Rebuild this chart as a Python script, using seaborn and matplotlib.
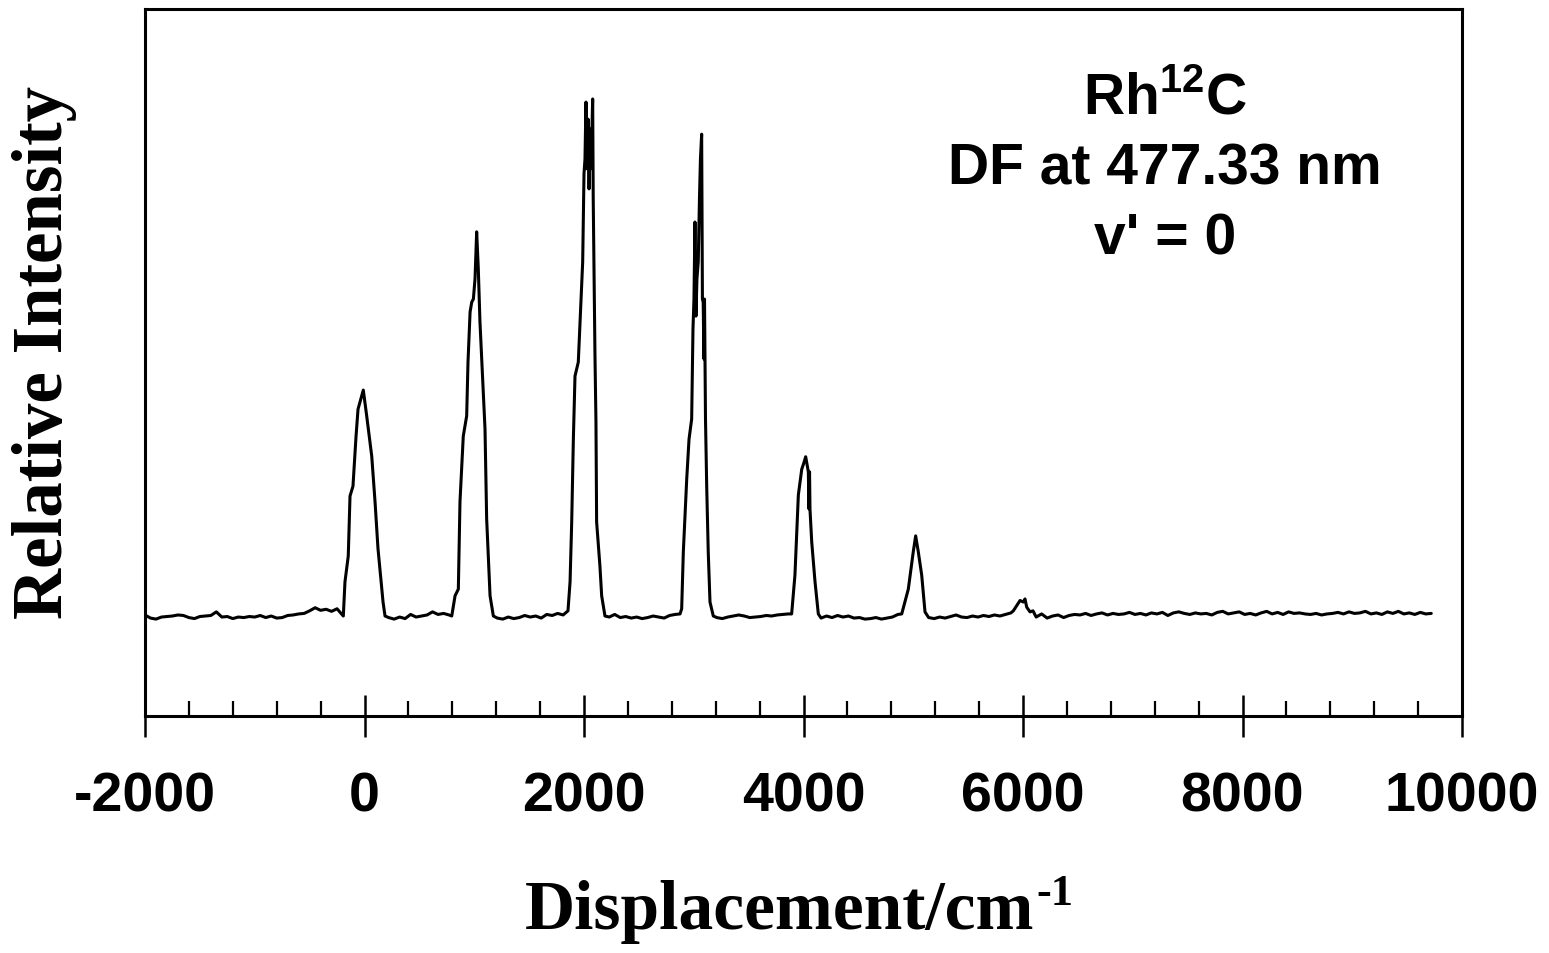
import matplotlib
matplotlib.use("Agg")
import numpy as np
import pandas as pd
import matplotlib.pyplot as plt
from matplotlib.ticker import MultipleLocator
import seaborn as sns

# ---------------------------------------------------------------------------
# Dispersed-fluorescence spectrum of Rh12C (excitation 477.33 nm, v' = 0)
# displacement in cm^-1, intensity in relative units (strongest line = 100)
# ---------------------------------------------------------------------------

# flat stretches between bands: start, step, sampled intensities
base_a_start, base_step = -2000, 50
base_a = [0.2, -0.4, -0.6, -0.2, -0.1, 0.0, 0.2, 0.1, -0.3, -0.5, -0.1, 0.0,
          0.1, 0.8, -0.2, -0.1, -0.5, -0.2, -0.3, -0.1, -0.2, 0.1, -0.3, 0.0,
          -0.4, -0.3, 0.1, 0.2, 0.4, 0.5, 1.0, 1.6, 1.1, 1.3, 0.9, 1.4]
base_b_start = 220
base_b = [-0.3, -0.6, -0.2, -0.5, 0.3, -0.2, 0.0, 0.2, 0.8, 0.3, 0.5, 0.2]
base_c_start = 1210
base_c = [-0.4, -0.6, -0.2, -0.5, -0.3, 0.1, -0.2, 0.0, -0.4, 0.3, 0.1, 0.5, 0.2]
base_d_start = 2230
base_d = [-0.2, 0.3, -0.3, -0.1, -0.4, -0.2, -0.5, -0.3, 0.0, -0.2, -0.4, 0.1, 0.3]
base_e_start = 3210
base_e = [-0.3, -0.5, -0.2, 0.0, 0.2, 0.0, -0.3, -0.2, -0.1, 0.1, 0.0, 0.2, 0.3, 0.4]
base_f_start = 4160
base_f = [-0.4, 0.0, -0.3, 0.1, -0.2, 0.0, -0.4, -0.3, -0.6, -0.5, -0.3, -0.6,
          -0.4, -0.2, 0.3]
base_g_start = 5140
base_g = [-0.3, -0.5, -0.2, -0.4, -0.1, 0.2, -0.2, -0.3, 0.0, -0.2, 0.1, -0.1,
          0.2, 0.0, 0.3, 0.6]
base_h_start = 6120
base_h = [-0.2, 0.4, -0.4, 0.0, 0.2, -0.3, 0.1, 0.3, 0.2, 0.5, 0.1, 0.4, 0.6,
          0.2, 0.5, 0.3, 0.4, 0.7, 0.3, 0.5, 0.2, 0.6, 0.4, 0.7, 0.1, 0.6, 0.8,
          0.5, 0.3, 0.6, 0.4, 0.5, 0.2, 0.7, 0.9, 0.4, 0.6, 0.8, 0.3, 0.5, 0.2,
          0.6, 0.9, 0.4, 0.7, 0.3, 0.8, 0.5, 0.6, 0.4, 0.3, 0.5, 0.2, 0.4, 0.5,
          0.7, 0.4, 0.8, 0.5, 0.6, 0.9, 0.4, 0.6, 0.3, 0.8, 0.5, 0.9, 0.4, 0.6,
          0.3, 0.7, 0.4, 0.5]

# vibrational bands (v'' = 0 ... 6)
band0_x = [-193, -178, -148, -132, -105, -77, -59, -41, -11, 20, 66, 96, 123, 169, 187]
band0_y = [0.0, 6.6, 11.6, 23.2, 25.1, 34.8, 40.0, 41.4, 43.7, 38.7, 30.9, 22.1, 13.0, 2.7, 0.0]

band1_x = [795, 825, 855, 870, 900, 931, 943, 962, 977, 992, 1007, 1022, 1037,
           1052, 1082, 1098, 1113, 1144, 1174]
band1_y = [0.0, 3.9, 5.2, 22.1, 34.8, 38.7, 49.1, 58.8, 60.7, 61.3, 65.2, 74.3,
           67.1, 56.9, 43.3, 36.2, 18.8, 3.9, 0.0]

band2_x = [1854, 1873, 1888, 1903, 1918, 1948, 1973, 1988, 2000, 2009, 2018, 2027,
           2037, 2046, 2055, 2064, 2079, 2084, 2091, 2100, 2109, 2115, 2145, 2161, 2191]
band2_y = [1.0, 6.6, 18.2, 34.2, 46.4, 49.1, 61.3, 68.5, 85.5, 88.4, 99.4, 86.5,
           96.1, 82.6, 94.2, 86.5, 100.0, 80.7, 67.1, 50.3, 37.5, 18.2, 9.7, 3.9, 0.0]

band3_x = [2875, 2890, 2905, 2936, 2957, 2981, 2993, 3002, 3011, 3020, 3029, 3041,
           3052, 3061, 3072, 3079, 3086, 3093, 3098, 3102, 3107, 3118, 3132, 3148, 3178]
band3_y = [0.4, 1.4, 12.4, 26.5, 34.2, 38.1, 55.5, 61.3, 76.2, 58.0, 65.2, 68.5,
           80.7, 88.4, 93.2, 61.3, 60.7, 49.7, 61.3, 51.1, 38.1, 25.1, 12.4, 2.7, 0.0]

band4_x = [3892, 3922, 3953, 3984, 4000, 4020, 4032, 4044, 4050, 4055, 4059, 4075, 4105, 4135]
band4_y = [0.4, 7.9, 23.4, 28.4, 29.4, 30.8, 29.4, 27.9, 20.7, 27.9, 20.7, 14.3, 6.6, 0.4]

band5_x = [4895, 4955, 5000, 5022, 5046, 5077, 5107]
band5_y = [0.4, 5.2, 12.4, 15.5, 12.4, 7.9, 0.8]

band6_x = [5912, 5973, 6003, 6018, 6034, 6064, 6091]
band6_y = [1.0, 3.0, 2.7, 3.3, 1.7, 0.8, 1.0]

x_major = [-2000, 0, 2000, 4000, 6000, 8000, 10000]

annotation = ["Rh$^{\\mathsf{12}}$C", "DF at 477.33 nm", "v' = 0"]
x_title = "Displacement/cm"
x_title_exp = "-1"
y_title = "Relative Intensity"


def flat(start, values):
    xs = [start + base_step * i for i in range(len(values))]
    return xs, list(values)


pieces = [
    flat(base_a_start, base_a), (band0_x, band0_y),
    flat(base_b_start, base_b), (band1_x, band1_y),
    flat(base_c_start, base_c), (band2_x, band2_y),
    flat(base_d_start, base_d), (band3_x, band3_y),
    flat(base_e_start, base_e), (band4_x, band4_y),
    flat(base_f_start, base_f), (band5_x, band5_y),
    flat(base_g_start, base_g), (band6_x, band6_y),
    flat(base_h_start, base_h),
]
shift = np.concatenate([np.asarray(p[0], float) for p in pieces])
inten = np.concatenate([np.asarray(p[1], float) for p in pieces])
spectrum = pd.DataFrame({"shift": shift, "intensity": inten})

sns.set_theme(style="white")
plt.rcParams.update({
    "font.family": ["Liberation Sans", "DejaVu Sans"],
    "axes.unicode_minus": False,
    "mathtext.fontset": "custom",
    "mathtext.rm": "Liberation Serif:bold",
    "mathtext.bf": "Liberation Serif:bold",
    "mathtext.sf": "Liberation Sans:bold",
    "axes.edgecolor": "black",
    "axes.linewidth": 2.0,
})

W, H = 1549, 954
fig = plt.figure(figsize=(W / 100, H / 100), dpi=100)
ax = fig.add_axes([145 / W, 1 - 717 / H, (1462 - 145) / W, (717 - 10) / H])

sns.lineplot(data=spectrum, x="shift", y="intensity", ax=ax, color="black",
             lw=2.2, estimator=None, sort=False)

ax.set_xlim(-2000, 10000)
ax.set_ylim(-19.34, 117.4)
ax.set_xticks(x_major)
ax.set_xticklabels([str(v) for v in x_major])
ax.xaxis.set_minor_locator(MultipleLocator(400))
ax.tick_params(axis="x", which="major", direction="inout", length=30, width=1.8,
               pad=24, labelsize=40, colors="black")
ax.tick_params(axis="x", which="minor", direction="in", length=11, width=1.6,
               colors="black")
ax.tick_params(axis="x", which="both", bottom=True, top=False)
ax.tick_params(axis="y", left=False, labelleft=False)
for lab in ax.get_xticklabels():
    lab.set_fontweight("bold")
ax.set_xlabel("")
ax.set_ylabel("")
for s in ax.spines.values():
    s.set_visible(True)
    s.set_color("black")
    s.set_linewidth(2.2)

# band system label
ann_x = (1165 - 145) / (1462 - 145)
for text, yy in zip(annotation, [0.873, 0.774, 0.675]):
    ax.text(ann_x, yy, text, transform=ax.transAxes, ha="center", va="center",
            fontsize=41, fontweight="bold", color="black")

# axis titles (the x title carries a raised "-1" exponent)
xt = fig.text(780 / W, 1 - 912 / H, x_title, ha="center", va="center",
              fontsize=50, fontweight="bold", family="Liberation Serif", color="black")
fig.canvas.draw()
bb = xt.get_window_extent()
fig.text((bb.x1 + 2) / W, (bb.y1 - 14) / H, x_title_exp, ha="left", va="center",
         fontsize=32, fontweight="bold", family="Liberation Serif", color="black")
fig.text(45 / W, 1 - 352 / H, y_title, ha="center", va="center", rotation=90,
         fontsize=51, fontweight="bold", family="Liberation Serif", color="black")

fig.savefig("out.png", dpi=100, facecolor="white")
